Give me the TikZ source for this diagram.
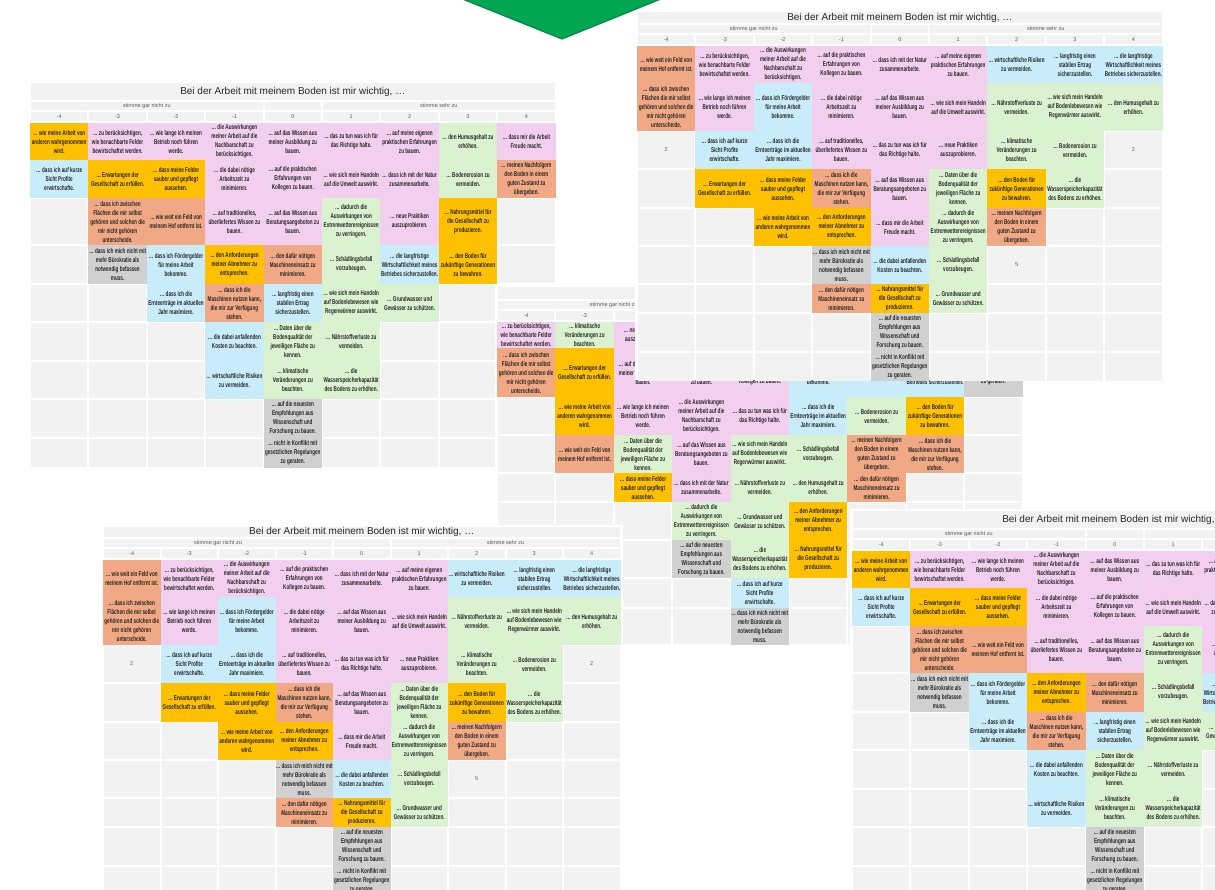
\documentclass[tikz,border=0pt]{standalone}
\usepackage{fontspec}
\setmainfont{Liberation Sans}
\newfontfamily\cellfont[FakeStretch=0.66]{Liberation Sans}

\definecolor{qgold}{HTML}{FFC000}
\definecolor{qpink}{HTML}{F2CFEE}
\definecolor{qsalmon}{HTML}{F0A984}
\definecolor{qblue}{HTML}{C9ECFA}
\definecolor{qgreen}{HTML}{DBF2D0}
\definecolor{qgray}{HTML}{D0D0D0}
\definecolor{qempty}{HTML}{F2F2F2}
\definecolor{celltext}{HTML}{262626}
\definecolor{headgray}{HTML}{595959}
\definecolor{arrowgreen}{HTML}{00A651}
\definecolor{arrowedge}{HTML}{008A45}

\tikzset{
	headcell/.style={fill=qempty},
	emptycell/.style={fill=qempty},
	cell/.style={align=center, inner sep=0pt, text=celltext, font=\cellfont\bfseries\fontsize{7}{9}\selectfont},
	headtext/.style={inner sep=0pt, text=headgray, font=\fontsize{5.5}{6}\selectfont},
	titletext/.style={inner sep=0pt, text=black!85, font=\fontsize{10}{12}\selectfont}
}

\newcommand{\defst}[3]{\expandafter\def\csname stc#1\endcsname{#2}\expandafter\def\csname stt#1\endcsname{#3}}

\defst{1}{qgold}{… wie meine Arbeit von\\anderen wahrgenommen\\wird.}
\defst{2}{qpink}{… zu berücksichtigen,\\wie benachbarte Felder\\bewirtschaftet werden.}
\defst{3}{qpink}{… wie lange ich meinen\\Betrieb noch führen\\werde.}
\defst{4}{qpink}{… die Auswirkungen\\meiner Arbeit auf die\\Nachbarschaft zu\\berücksichtigen.}
\defst{5}{qpink}{… auf das Wissen aus\\meiner Ausbildung zu\\bauen.}
\defst{6}{qpink}{… das zu tun was ich für\\das Richtige halte.}
\defst{7}{qpink}{… auf meine eigenen\\praktischen Erfahrungen\\zu bauen.}
\defst{8}{qgreen}{… den Humusgehalt zu\\erhöhen.}
\defst{9}{qpink}{… dass mir die Arbeit\\Freude macht.}
\defst{10}{qblue}{… dass ich auf kurze\\Sicht Profite\\erwirtschafte.}
\defst{11}{qgold}{… Erwartungen der\\Gesellschaft zu erfüllen.}
\defst{12}{qgold}{… dass meine Felder\\sauber und gepflegt\\aussehen.}
\defst{13}{qpink}{… die dabei nötige\\Arbeitszeit zu\\minimieren.}
\defst{14}{qpink}{… auf die praktischen\\Erfahrungen von\\Kollegen zu bauen.}
\defst{15}{qpink}{… wie sich mein Handeln\\auf die Umwelt auswirkt.}
\defst{16}{qpink}{… dass ich mit der Natur\\zusammenarbeite.}
\defst{17}{qgreen}{… Bodenerosion zu\\vermeiden.}
\defst{18}{qsalmon}{… meinen Nachfolgern\\den Boden in einem\\guten Zustand zu\\übergeben.}
\defst{19}{qsalmon}{… dass ich zwischen\\Flächen die mir selbst\\gehören und solchen die\\mir nicht gehören\\unterscheide.}
\defst{20}{qsalmon}{… wie weit ein Feld von\\meinem Hof entfernt ist.}
\defst{21}{qpink}{… auf traditionelles,\\überliefertes Wissen zu\\bauen.}
\defst{22}{qpink}{… auf das Wissen aus\\Beratungsangeboten zu\\bauen.}
\defst{23}{qgreen}{… dadurch die\\Auswirkungen von\\Extremwetterereignissen\\zu verringern.}
\defst{24}{qpink}{… neue Praktiken\\auszuprobieren.}
\defst{25}{qgold}{… Nahrungsmittel für\\die Gesellschaft zu\\produzieren.}
\defst{26}{qgray}{… dass ich mich nicht mit\\mehr Bürokratie als\\notwendig befassen\\muss.}
\defst{27}{qblue}{… dass ich Fördergelder\\für meine Arbeit\\bekomme.}
\defst{28}{qgold}{… den Anforderungen\\meiner Abnehmer zu\\entsprechen.}
\defst{29}{qsalmon}{… den dafür nötigen\\Maschineneinsatz zu\\minimieren.}
\defst{30}{qgreen}{… Schädlingsbefall\\vorzubeugen.}
\defst{31}{qblue}{… die langfristige\\Wirtschaftlichkeit meines\\Betriebes sicherzustellen.}
\defst{32}{qgold}{… den Boden für\\zukünftige Generationen\\zu bewahren.}
\defst{33}{qblue}{… dass ich die\\Ernteerträge im aktuellen\\Jahr maximiere.}
\defst{34}{qsalmon}{… dass ich die\\Maschinen nutzen kann,\\die mir zur Verfügung\\stehen.}
\defst{35}{qblue}{… langfristig einen\\stabilen Ertrag\\sicherzustellen.}
\defst{36}{qgreen}{… wie sich mein Handeln\\auf Bodenlebewesen wie\\Regenwürmer auswirkt.}
\defst{37}{qgreen}{… Grundwasser und\\Gewässer zu schützen.}
\defst{38}{qblue}{… die dabei anfallenden\\Kosten zu beachten.}
\defst{39}{qgreen}{… Daten über die\\Bodenqualität der\\jeweiligen Fläche zu\\kennen.}
\defst{40}{qgreen}{… Nährstoffverluste zu\\vermeiden.}
\defst{41}{qblue}{… wirtschaftliche Risiken\\zu vermeiden.}
\defst{42}{qgreen}{… klimatische\\Veränderungen zu\\beachten.}
\defst{43}{qgreen}{… die\\Wasserspeicherkapazität\\des Bodens zu erhöhen.}
\defst{44}{qgray}{… auf die neuesten\\Empfehlungen aus\\Wissenschaft und\\Forschung zu bauen.}
\defst{45}{qgray}{… nicht in Konflikt mit\\gesetzlichen Regelungen\\zu geraten.}

\def\qtitle{Bei der Arbeit mit meinem Boden ist mir wichtig, …}

\def\rowsA{{0,37,75,122,161,199,238,276,315,345}}
\def\rowsB{{0,37,85,123,162,200,238,267,306,336}}
\def\rowsC{{0,26,75,113,151,180,218,256,286,323}}

% negative numbers: card lies under another sort, colour only
\def\arrA{0/{1,10},1/{2,11,19,26},2/{3,12,20,27,33},3/{4,13,21,28,34,38,41},4/{5,14,22,29,35,39,42,44,45},5/{6,15,23,30,36,40,43},6/{7,16,24,31,37},7/{8,17,25,32},8/{9,18}}
\def\arrB{0/{20,19},1/{2,3,10,11},2/{4,27,33,12,1},3/{14,13,21,34,28,26,29},4/{16,5,6,22,9,38,25,44,45},5/{7,15,24,39,23,30,37},6/{41,40,42,32,18},7/{35,36,17,43},8/{31,8}}
\def\arrC{0/{2,19},1/{42,11,1,20},2/{24,5,3,39,12},3/{-13,7,4,22,16,23,44},4/{-15,14,6,36,40,37,43,10,26},5/{-21,27,33,30,8,28,25},6/{-41,38,17,18,29},7/{-35,31,32,34},8/{-9,45}}

\def\lblA{}
\def\lblB{0/2/2,8/2/2,6/5/5}
\def\lblC{}

% #1 name, #2 left, #3 first row, #4 column width, #5 title top, #6 bottom, #7 sort, #8 title
\newcommand{\qsort}[8]{%
	\expandafter\let\expandafter\rowlist\csname rows#7\endcsname
	\expandafter\let\expandafter\arrlist\csname arr#7\endcsname
	\expandafter\let\expandafter\lbllist\csname lbl#7\endcsname
	\begin{scope}
		\fill[white] ({#2-2},{#5-2}) rectangle ({#2+9*#4+2},#6);
		\clip ({#2-2},{#5-2}) rectangle ({#2+9*#4+2},#6);
		\fill[headcell] ({#2+1},#5) rectangle ({#2+9*#4-1},{#3-23});
		\node[titletext] (#1-title) at ({#2+4.5*#4},{(#5+#3-23)/2}) {#8};
		\fill[headcell] ({#2+1},{#3-21}) rectangle ({#2+4*#4-1},{#3-13});
		\fill[headcell] ({#2+4*#4+1},{#3-21}) rectangle ({#2+5*#4-1},{#3-13});
		\fill[headcell] ({#2+5*#4+1},{#3-21}) rectangle ({#2+9*#4-1},{#3-13});
		\node[headtext] (#1-neg) at ({#2+2*#4},{#3-17}) {stimme gar nicht zu};
		\node[headtext] (#1-pos) at ({#2+7*#4},{#3-17}) {stimme sehr zu};
		\foreach \ci in {0,...,8} {
			\pgfmathtruncatemacro\v{\ci-4}
			\fill[headcell] ({#2+\ci*#4+1},{#3-11}) rectangle ({#2+(\ci+1)*#4-1},{#3-2});
			\node[headtext] (#1-n\ci) at ({#2+(\ci+0.5)*#4},{#3-6.5}) {\v};
		}
		\foreach \ci in {0,...,8}
			\foreach \ri in {0,...,8} {
				\pgfmathsetmacro\yt{#3+\rowlist[\ri]}
				\pgfmathsetmacro\yb{#3+\rowlist[\ri+1]}
				\fill[emptycell] ({#2+\ci*#4+1},{\yt+1}) rectangle ({#2+(\ci+1)*#4-1},{\yb-1});
			}
		\foreach \ci/\lst in \arrlist {
			\foreach \sn [count=\k] in \lst {
				\pgfmathtruncatemacro\ri{\k-1}
				\pgfmathtruncatemacro\sa{abs(\sn)}
				\pgfmathsetmacro\yt{#3+\rowlist[\ri]}
				\pgfmathsetmacro\yb{#3+\rowlist[\ri+1]}
				\edef\cc{\csname stc\sa\endcsname}
				\fill[\cc] ({#2+\ci*#4},\yt) rectangle ({#2+(\ci+1)*#4},\yb);
				\ifnum\sn>0
					\node[cell] (#1-\ci-\ri) at ({#2+(\ci+0.5)*#4},{(\yt+\yb)/2}) {\csname stt\sa\endcsname};
				\fi
			}
		}
		\ifx\lbllist\empty\else
			\foreach \ci/\ri/\lab in \lbllist {
				\pgfmathsetmacro\yt{#3+\rowlist[\ri]}
				\pgfmathsetmacro\yb{#3+\rowlist[\ri+1]}
				\node[headtext] (#1-l\ci-\ri) at ({#2+(\ci+0.5)*#4},{(\yt+\yb)/2}) {\lab};
			}
		\fi
	\end{scope}}

\begin{document}
\begin{tikzpicture}[x=1pt,y=-1pt]
	\useasboundingbox (0,0) rectangle (1215,889);
	\fill[white] (0,0) rectangle (1215,889);
	\clip (0,0) rectangle (1215,889);

	\qsort{gA}{30}{123}{58.4}{83}{468}{A}{\qtitle}
	\filldraw[fill=arrowgreen, draw=arrowedge, line width=1.2pt] (440,-10) -- (562,39) -- (683,-10) -- cycle;
	\qsort{gC}{497}{322}{58.4}{287}{647}{C}{}
	\qsort{gB}{637}{46}{58.4}{12}{380}{B}{\qtitle}
	\qsort{gD}{103}{560}{57.5}{527}{889}{B}{\qtitle}
	\qsort{gE}{852}{551}{58.4}{511}{889}{A}{\qtitle}
\end{tikzpicture}
\end{document}
